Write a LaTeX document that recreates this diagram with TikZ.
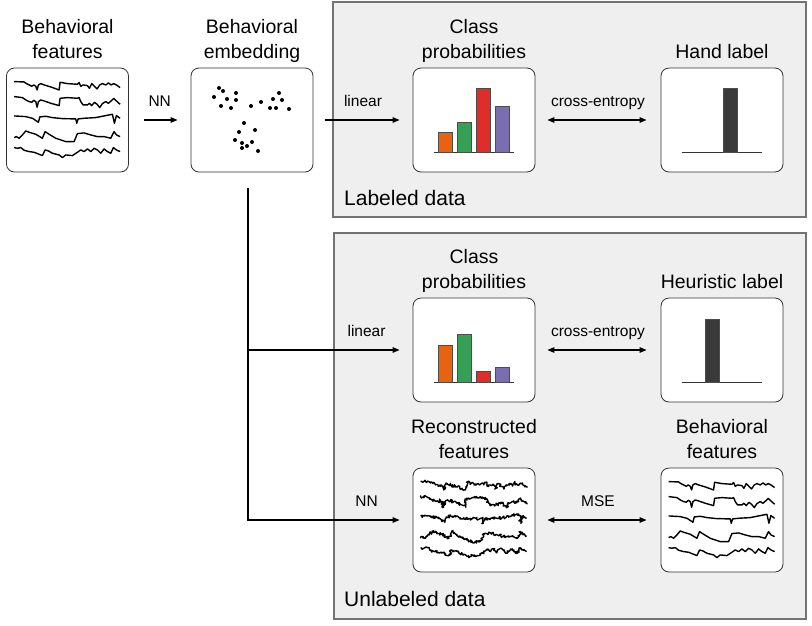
\documentclass[tikz,border=0pt]{standalone}
\usepackage{fontspec}
\setmainfont{Liberation Sans}
\usetikzlibrary{arrows.meta,positioning,decorations.pathmorphing}

\definecolor{barorange}{HTML}{E8620F}
\definecolor{bargreen}{HTML}{35A055}
\definecolor{barred}{HTML}{E12D2A}
\definecolor{barpurple}{HTML}{7A6DB0}
\definecolor{bardark}{HTML}{3A3A3A}
\definecolor{panelgray}{HTML}{EFEFEF}

\tikzset{
  card/.style={draw=black!80, line width=0.8pt, fill=white, rounded corners=8pt,
    minimum width=122pt, minimum height=104pt, inner sep=0pt},
  title/.style={font=\fontsize{19.5}{25}\selectfont, align=center, inner sep=0pt},
  edgelbl/.style={font=\fontsize{15.5}{18}\selectfont, inner sep=0pt, anchor=base, yshift=13.5pt},
  panel/.style={draw=black!55, line width=1.1pt, fill=panelgray},
  paneltxt/.style={font=\fontsize{21}{25}\selectfont, inner sep=0pt, anchor=base west},
  arr/.style={line width=1.2pt, -{Triangle[length=7pt,width=5.5pt]}},
  biarr/.style={line width=1.2pt, {Triangle[length=7pt,width=5.5pt]}-{Triangle[length=7pt,width=5.5pt]}},
  trace/.style={line width=1.4pt, line join=round},
  bar/.style={draw=black!70, line width=0.5pt},
  axisline/.style={draw=black!80, line width=0.8pt},
}

% five feature traces, drawn in a scope placed on the card
\newcommand{\featuretraces}{%
  \draw[trace] plot coordinates {(15,30) (45,31) (52,36) (60,40) (68,44) (74,40) (80,44) (84,55) (88,40) (95,36) (105,40) (125,46) (150,55) (153,32) (175,36) (205,38) (210,33) (215,44) (222,40) (235,42) (241,50) (248,36) (256,44) (264,52) (272,40) (280,36) (290,40) (298,34) (306,40) (314,36) (322,40) (333,48)};
  \draw[trace] plot coordinates {(15,75) (40,78) (50,85) (60,90) (68,92) (74,86) (80,90) (84,107) (88,90) (95,85) (105,88) (125,95) (150,102) (153,80) (175,78) (205,80) (210,78) (215,90) (222,100) (235,100) (241,95) (248,102) (256,92) (264,98) (272,108) (280,96) (290,90) (298,95) (306,88) (314,80) (322,88) (333,98)};
  \draw[trace] plot coordinates {(15,133) (50,135) (70,140) (88,152) (92,136) (110,134) (130,138) (160,141) (200,142) (203,155) (207,142) (225,140) (260,138) (290,132) (310,128) (316,155) (322,132) (333,140)};
  \draw[trace] plot coordinates {(15,198) (22,195) (30,200) (40,190) (50,178) (60,182) (80,188) (100,200) (108,180) (120,188) (140,200) (170,210) (195,210) (200,198) (205,186) (225,184) (245,190) (265,195) (285,195) (305,200) (315,180) (322,190) (333,195)};
  \draw[trace] plot coordinates {(15,228) (25,230) (35,228) (45,236) (60,240) (75,242) (90,248) (100,252) (108,235) (118,238) (130,245) (150,250) (160,258) (170,250) (190,252) (205,242) (215,235) (225,240) (235,232) (245,240) (255,230) (265,235) (275,245) (285,232) (295,240) (305,245) (313,228) (322,235) (333,240)};
}

% bar chart of class probabilities: #1 card, #2..#5 bar heights
\newcommand{\barchart}[5]{%
  \begin{scope}[shift={(#1.south west)}]
    \draw[axisline] (21,-20) -- (101,-20);
    \filldraw[bar, fill=barorange] (26,-20) rectangle (40,-20-#2);
    \filldraw[bar, fill=bargreen]  (45,-20) rectangle (59,-20-#3);
    \filldraw[bar, fill=barred]    (64,-20) rectangle (78,-20-#4);
    \filldraw[bar, fill=barpurple] (83,-20) rectangle (97,-20-#5);
  \end{scope}
}

% one-hot label: #1 card, #2 left of bar, #3 bar height
\newcommand{\onehot}[3]{%
  \begin{scope}[shift={(#1.south west)}]
    \draw[axisline] (21,-20) -- (101,-20);
    \filldraw[bar, fill=bardark] (#2,-20) rectangle (#2+14,-20-#3);
  \end{scope}
}

\begin{document}
\begin{tikzpicture}[x=1pt,y=-1pt]
  \useasboundingbox (0,0) rectangle (812,625);

  % panels
  \draw[panel] (333,2) rectangle (806,217);
  \draw[panel] (334,233) rectangle (806,619);
  \node[paneltxt] (labeled) at (344,205) {Labeled data};
  \node[paneltxt] (unlabeled) at (344,606) {Unlabeled data};

  % cards
  \node[card] (feat) at (67.5,120) {};
  \node[card] (embed) at (252,120) {};
  \node[card] (prob1) at (474,120) {};
  \node[card] (hand) at (722,120) {};
  \node[card] (prob2) at (474,350) {};
  \node[card] (heur) at (722,350) {};
  \node[card] (recon) at (474,520) {};
  \node[card] (feat2) at (722,520) {};

  % titles
  \node[title, above=1.5pt of feat] (featT) {Behavioral\\features\strut};
  \node[title, above=1.5pt of embed] (embedT) {Behavioral\\embedding\strut};
  \node[title, above=1.5pt of prob1] (prob1T) {Class\\probabilities\strut};
  \node[title, above=1.5pt of hand] (handT) {Hand label\strut};
  \node[title, above=1.5pt of prob2] (prob2T) {Class\\probabilities\strut};
  \node[title, above=1.5pt of heur] (heurT) {Heuristic label\strut};
  \node[title, above=1.5pt of recon] (reconT) {Reconstructed\\features\strut};
  \node[title, above=1.5pt of feat2] (feat2T) {Behavioral\\features\strut};

  % card contents
  \begin{scope}[shift={(feat.north west)}, x=0.3333pt, y=-0.3333pt, shift={(9,12)}]
    \featuretraces
  \end{scope}
  \begin{scope}[shift={(feat2.north west)}, x=0.3333pt, y=-0.3333pt, shift={(9,12)}]
    \featuretraces
  \end{scope}
  \begin{scope}[shift={(recon.north west)}, x=0.3333pt, y=-0.3333pt, shift={(9,12)},
      trace/.append style={decorate, decoration={random steps, segment length=0.9pt, amplitude=1.5pt}}]
    \pgfmathsetseed{7}
    \featuretraces
  \end{scope}

  \foreach \p in {(219,88),(223,91),(214,97),(227,99),(236,93),(236,100),(221,106),(231,108),
      (251,106),(261,102),(279,93),(273,99),(282,100),(270,108),(276,108),(289,109),
      (244,123),(255,130),(239,132),(235,140),(242,143),(247,146),(252,142),(242,148),(258,151)}
    \fill \p circle (2pt);

  \barchart{prob1}{20}{30}{64}{46}
  \barchart{prob2}{37}{48}{11}{15}
  \onehot{hand}{63}{64}
  \onehot{heur}{45}{63}

  % connectors
  \coordinate (split) at (248,188);
  \draw[arr, shorten <=15pt, shorten >=13pt] (feat.east) -- node[edgelbl] {NN} (embed.west);
  \draw[arr, shorten <=12pt, shorten >=13pt] (embed.east) -- node[edgelbl] {linear} (prob1.west);
  \draw[biarr, shorten <=12pt, shorten >=14pt] (prob1.east) -- node[edgelbl] {cross-entropy} (hand.west);
  \draw[arr, shorten >=13pt] (split) |- node[edgelbl, pos=0.86] {linear} (prob2.west);
  \draw[biarr, shorten <=12pt, shorten >=14pt] (prob2.east) -- node[edgelbl] {cross-entropy} (heur.west);
  \draw[arr, shorten >=13pt] (split) |- node[edgelbl, pos=0.86] {NN} (recon.west);
  \draw[biarr, shorten <=12pt, shorten >=14pt] (recon.east) -- node[edgelbl] {MSE} (feat2.west);
\end{tikzpicture}
\end{document}
